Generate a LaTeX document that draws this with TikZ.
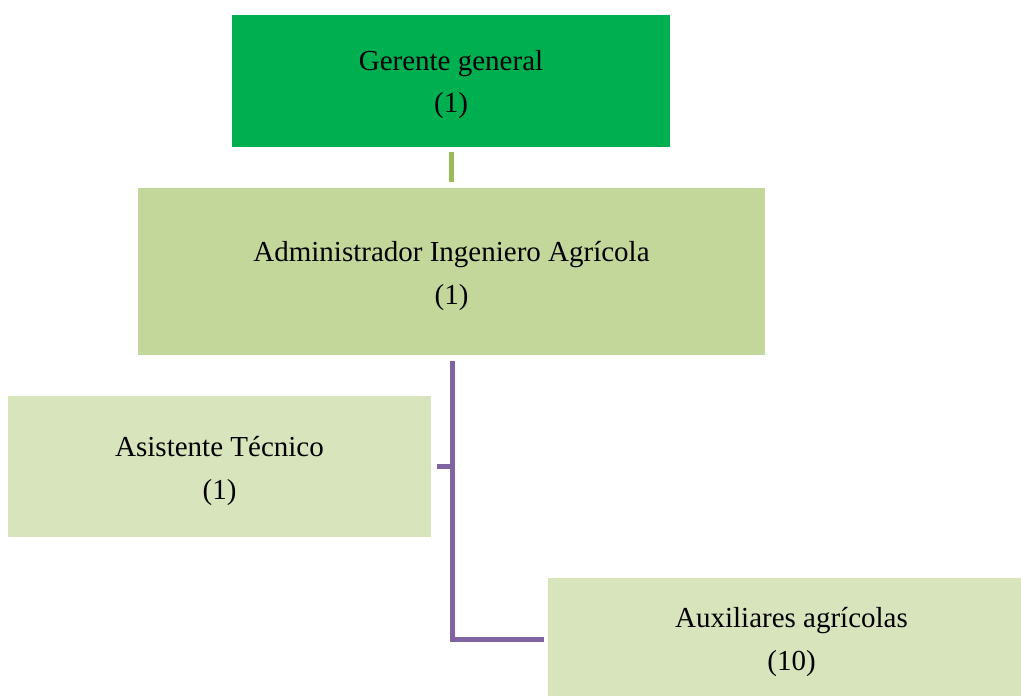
\documentclass[tikz,border=0pt]{standalone}
\usepackage{fontspec}
\setmainfont{Liberation Serif}
\definecolor{topgreen}{HTML}{00B050}
\definecolor{midgreen}{HTML}{C4D79B}
\definecolor{lightgreen}{HTML}{D8E4BC}
\definecolor{linkgreen}{HTML}{9BBB59}
\definecolor{linkpurple}{HTML}{8064A2}
\tikzset{
  orgbox/.style={inner sep=0pt},
  orgtext/.style={inner sep=0pt, align=center, font=\fontsize{29}{42.5}\selectfont},
  glink/.style={draw=linkgreen, line width=5pt},
  plink/.style={draw=linkpurple, line width=5pt},
}
\begin{document}
\begin{tikzpicture}[x=1pt,y=-1pt]
\useasboundingbox (0,0) rectangle (1021,696);
\fill[white] (0,0) rectangle (1021,696);
\node[orgbox, fill=topgreen, minimum width=438pt, minimum height=132pt] (gg) at (451,81) {};
\node[orgbox, fill=midgreen, minimum width=627pt, minimum height=167pt] (adm) at (451.5,271.5) {};
\node[orgbox, fill=lightgreen, minimum width=423pt, minimum height=141pt] (asis) at (219.5,466.5) {};
\node[orgbox, fill=lightgreen, minimum width=473pt, minimum height=118pt] (aux) at (784.5,637) {};
\node[orgtext] (ggt) at ([yshift=-3.5pt]gg.center) {Gerente general\\(1)};
\node[orgtext] (admt) at ([yshift=-4.5pt]adm.center) {Administrador Ingeniero Agrícola\\(1)};
\node[orgtext] (asist) at ([yshift=-4.5pt]asis.center) {Asistente Técnico\\(1)};
\node[orgtext] (auxt) at ([xshift=7pt,yshift=-5pt]aux.center) {Auxiliares agrícolas\\(10)};
\coordinate (g1) at (451.5,152);
\coordinate (g2) at (451.5,182);
\draw[glink] (g1) -- (g2);
\coordinate (p1) at (452,361);
\coordinate (pj) at (452,466.5);
\coordinate (pa) at (437,466.5);
\coordinate (p2) at (452,639.5);
\coordinate (pe) at (544,639.5);
\draw[plink] (p1) -- (p2) -- (pe);
\draw[plink] (pj) -- (pa);
\end{tikzpicture}
\end{document}
